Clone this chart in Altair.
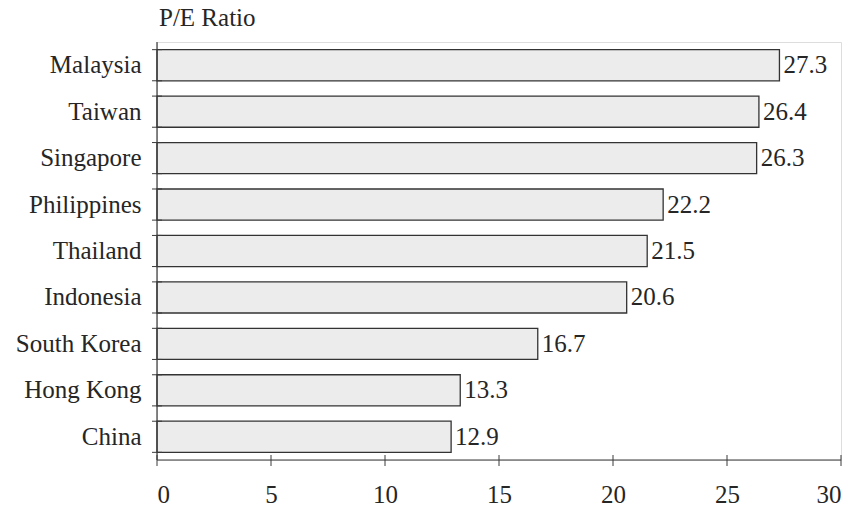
import altair as alt
import pandas as pd

countries = ["Malaysia", "Taiwan", "Singapore", "Philippines", "Thailand",
             "Indonesia", "South Korea", "Hong Kong", "China"]
pe_ratio = [27.3, 26.4, 26.3, 22.2, 21.5, 20.6, 16.7, 13.3, 12.9]
x_ticks = [0, 5, 10, 15, 20, 25, 30]

df = pd.DataFrame({"country": countries, "pe": pe_ratio})
ticks_df = pd.DataFrame({"t": x_ticks})

FONT = "'Liberation Serif', 'Times New Roman', Times, serif"
INK = "#262626"
LINE = "#3a3a3a"
W, H = 684, 418

x_scale = alt.Scale(domain=[0, 30], nice=False, zero=True)
y_scale = alt.Scale(domain=countries, paddingInner=0.33, paddingOuter=0.165)

base = alt.Chart(df)

bars = base.mark_bar(fill="#ececec", stroke="#333333", strokeWidth=1.3).encode(
    x=alt.X("pe:Q", scale=x_scale,
            axis=alt.Axis(values=x_ticks, title=None, domain=False, grid=False,
                          ticks=False, labelFont=FONT, labelFontSize=25,
                          labelColor=INK, labelPadding=22)),
    y=alt.Y("country:N", scale=y_scale, sort=countries,
            axis=alt.Axis(title=None, domain=False, grid=False, ticks=False,
                          labelFont=FONT, labelFontSize=25,
                          labelColor=INK, labelPadding=16)),
)

values = base.mark_text(align="left", baseline="middle", dx=4, font=FONT,
                        fontSize=25, color=INK).encode(
    x=alt.X("pe:Q", scale=x_scale),
    y=alt.Y("country:N", scale=y_scale, sort=countries),
    text=alt.Text("pe:Q", format=".1f"),
)

# axis lines and crossing ticks
axis_df = pd.DataFrame({"lo": [0], "hi": [30]})
x_line = alt.Chart(axis_df).mark_rule(color=LINE, strokeWidth=1.2).encode(
    x=alt.X("lo:Q", scale=x_scale), x2="hi:Q", y=alt.value(H))
y_line = alt.Chart(axis_df).mark_rule(color=LINE, strokeWidth=1.2).encode(
    x=alt.X("lo:Q", scale=x_scale), y=alt.value(0), y2=alt.value(H))
x_tick_marks = alt.Chart(ticks_df).mark_rule(color=LINE, strokeWidth=1).encode(
    x=alt.X("t:Q", scale=x_scale), y=alt.value(H - 5), y2=alt.value(H + 6))
y_tick_top = base.mark_rule(color=LINE, strokeWidth=1).encode(
    y=alt.Y("country:N", scale=y_scale, sort=countries, bandPosition=0),
    x=alt.value(-5), x2=alt.value(5))
y_tick_bottom = base.mark_rule(color=LINE, strokeWidth=1).encode(
    y=alt.Y("country:N", scale=y_scale, sort=countries, bandPosition=1),
    x=alt.value(-5), x2=alt.value(5))

chart = alt.layer(bars, values, x_line, y_line, x_tick_marks,
                  y_tick_top, y_tick_bottom).properties(
    width=W, height=H,
    title=alt.TitleParams("P/E Ratio", anchor="start", frame="group",
                          font=FONT, fontSize=25, fontWeight="normal",
                          color=INK, offset=10, dx=2),
    autosize=alt.AutoSizeParams(type="none"),
    padding={"left": 157, "top": 42, "right": 21, "bottom": 48},
).configure_view(stroke=None).configure(background="white")

chart.save("out.html", embed_options={"renderer": "svg", "actions": False})
